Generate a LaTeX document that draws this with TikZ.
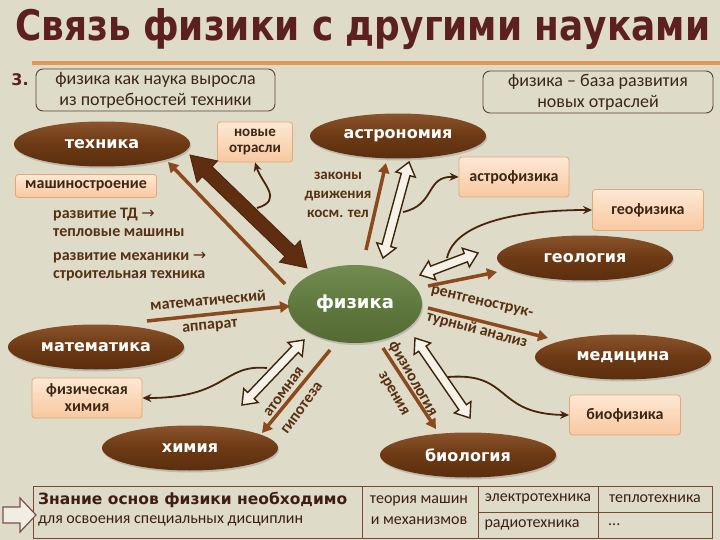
\documentclass[tikz,border=0pt]{standalone}
\usepackage{fontspec}
\setmainfont{Carlito}
\newfontfamily\dejavu{DejaVu Sans}
\usetikzlibrary{shapes.geometric,calc,arrows.meta,shadows}
\definecolor{bg}{RGB}{222,219,201}
\definecolor{bgLight}{RGB}{240,237,226}
\definecolor{titleCol}{RGB}{92,32,32}
\definecolor{orangeLine}{RGB}{226,150,88}
\definecolor{darkText}{RGB}{60,38,20}
\definecolor{lblCol}{RGB}{88,48,18}
\definecolor{boxLine}{RGB}{95,65,45}
\definecolor{ellTop}{RGB}{138,84,44}
\definecolor{ellMid}{RGB}{108,57,20}
\definecolor{ellBot}{RGB}{92,46,14}
\definecolor{greenTop}{RGB}{114,139,80}
\definecolor{greenMid}{RGB}{96,121,62}
\definecolor{greenBot}{RGB}{84,106,52}
\definecolor{peachTop}{RGB}{253,232,212}
\definecolor{peachBot}{RGB}{248,200,160}
\definecolor{peachLine}{RGB}{228,168,120}
\definecolor{arrowBrown}{RGB}{138,74,30}
\definecolor{bigArrow}{RGB}{95,45,15}
\definecolor{hollowLine}{RGB}{62,36,14}
\definecolor{hollowFill}{RGB}{245,242,232}
\definecolor{curveCol}{RGB}{72,36,12}
\definecolor{tableLine}{RGB}{122,72,50}
\definecolor{tableText}{RGB}{62,30,20}
\newcommand\dblarrow[6]{%
 \filldraw[#1] (#2) -- ($(#2)!#4!(#3)!#6!90:(#3)$) -- ($(#2)!#4!(#3)!#5!90:(#3)$) -- ($(#3)!#4!(#2)!#5!-90:(#2)$) -- ($(#3)!#4!(#2)!#6!-90:(#2)$) -- (#3) -- ($(#3)!#4!(#2)!#6!90:(#2)$) -- ($(#3)!#4!(#2)!#5!90:(#2)$) -- ($(#2)!#4!(#3)!#5!-90:(#3)$) -- ($(#2)!#4!(#3)!#6!-90:(#3)$) -- cycle;}
\begin{document}
\begin{tikzpicture}[x=1pt,y=-1pt,
  ell/.style={ellipse, inner sep=0pt, minimum width=176pt, minimum height=45pt,
    top color=ellTop, bottom color=ellBot, middle color=ellMid, text=white,
    font=\dejavu\bfseries\fontsize{16}{18}\selectfont,
    drop shadow={opacity=0.35, shadow xshift=1pt, shadow yshift=-2pt}},
  phys/.style={ellipse, inner sep=0pt, minimum width=134pt, minimum height=78pt,
    top color=greenTop, bottom color=greenBot, middle color=greenMid, text=white,
    font=\dejavu\bfseries\fontsize{18}{20}\selectfont,
    drop shadow={opacity=0.35, shadow xshift=1pt, shadow yshift=-2pt}},
  peach/.style={rectangle, rounded corners=3pt, draw=peachLine, line width=0.8pt,
    top color=peachTop, bottom color=peachBot, text=darkText, align=center,
    inner sep=0pt, font=\bfseries\fontsize{16}{17}\selectfont},
  infobox/.style={rectangle, rounded corners=7pt, draw=boxLine, line width=0.9pt,
    align=center, inner sep=0pt, text=darkText, font=\fontsize{18}{21}\selectfont},
  lbl/.style={text=lblCol, inner sep=0pt, font=\bfseries\fontsize{16}{18}\selectfont},
  solidarrow/.style={draw=arrowBrown, line width=3.5pt, -{Triangle[length=10pt,width=11pt]}},
  curvearrow/.style={draw=curveCol, line width=1.8pt, -{Stealth[length=9pt,width=8pt]}},
  hollow/.style={fill=hollowFill, draw=hollowLine, line width=1.4pt, line join=miter},
  big/.style={fill=bigArrow, draw=bigArrow!80!black, line width=0.8pt},
  cell/.style={text=tableText, inner sep=0pt, font=\fontsize{16}{18}\selectfont}
]
\useasboundingbox (0,0) rectangle (720,540);
\fill[bg] (0,0) rectangle (720,540);

% title
\node[anchor=base west, inner sep=0pt, text=titleCol] (title) at (15,41)
  {\resizebox{695pt}{32pt}{\dejavu\bfseries Связь физики с другими науками}};
\draw[orangeLine, line width=3.5pt] (32,63) -- (720,63);
\node[text=titleCol, font=\dejavu\bfseries\fontsize{16}{16}\selectfont, inner sep=0pt] (num) at (20,80) {3.};

\node[infobox, minimum width=239pt, minimum height=42pt] (b1) at (155.5,90) {физика как наука выросла\\из потребностей техники};
\node[infobox, minimum width=230pt, minimum height=42pt] (b2) at (598,92) {физика – база развития\\новых отраслей};

% ellipses
\node[ell] (tech) at (102,144) {техника};
\node[ell] (astro) at (398,136) {астрономия};
\node[ell] (geo) at (585,258) {геология};
\node[ell] (math) at (96,347) {математика};
\node[ell] (chem) at (190,448) {химия};
\node[ell] (med) at (623,357) {медицина};
\node[ell] (bio) at (468,455) {биология};
\node[phys] (phys) at (355,304) {физика};

% peach boxes
\node[peach, minimum width=75pt, minimum height=40pt, font=\bfseries\fontsize{15}{16}\selectfont] (new) at (255,142) {новые\\отрасли};
\node[peach, minimum width=141pt, minimum height=23pt] (mash) at (86,186) {машиностроение};
\node[peach, minimum width=110pt, minimum height=40pt] (astrophys) at (514,177) {астрофизика};
\node[peach, minimum width=111pt, minimum height=41pt] (geophys) at (648,210) {геофизика};
\node[peach, minimum width=110pt, minimum height=40pt] (physchem) at (87,398) {физическая\\химия};
\node[peach, minimum width=111pt, minimum height=40pt] (biophys) at (625,415) {биофизика};

% labels
\node[lbl, anchor=west, align=left] (td) at (53,222) {развитие ТД {\dejavu\mdseries →}\\тепловые машины};
\node[lbl, anchor=west, align=left] (mech) at (53,267) {развитие механики {\dejavu\mdseries →}\\строительная техника};
\node[lbl, align=center, font=\bfseries\fontsize{15}{19}\selectfont] (laws) at (338,195) {законы\\движения\\косм. тел};
\node[lbl, rotate=5] (mat1) at (208,300) {математический};
\node[lbl, rotate=5] (mat2) at (210,327) {аппарат};
\node[lbl, rotate=-13] (xr1) at (482,303) {рентгенострук-};
\node[lbl, rotate=-15] (xr2) at (477,330) {турный анализ};
\node[lbl, rotate=54] (at1) at (284,392) {атомная};
\node[lbl, rotate=54] (at2) at (302,408) {гипотеза};
\node[lbl, rotate=-60] (fz1) at (413,379) {физиология};
\node[lbl, rotate=-60] (fz2) at (393,394) {зрения};

% coordinates for connectors
\coordinate (bA) at (190,155); \coordinate (bB) at (307,268);
\coordinate (tA) at (285,284); \coordinate (tB) at (168,162);
\coordinate (aA) at (366,250); \coordinate (aB) at (386,163);
\coordinate (haA) at (383,258); \coordinate (haB) at (409,162);
\coordinate (hgA) at (420,275); \coordinate (hgB) at (478,253);
\coordinate (gA) at (428,286); \coordinate (gB) at (497,272);
\coordinate (mA) at (147,321); \coordinate (mB) at (290,306);
\coordinate (hcA) at (242,405); \coordinate (hcB) at (304,340);
\coordinate (cA) at (330,350); \coordinate (cB) at (262,433);
\coordinate (rA) at (428,308); \coordinate (rB) at (548,338);
\coordinate (hbA) at (415,338); \coordinate (hbB) at (470,418);
\coordinate (vA) at (383,348); \coordinate (vB) at (436,429);
\coordinate (c1) at (257,208); \coordinate (c2) at (403,212);
\coordinate (c3) at (447,258); \coordinate (c4) at (267,368);
\coordinate (c5) at (448,377);

% big double arrow
\dblarrow{big}{bA}{bB}{24pt}{7pt}{15pt}
% hollow double arrows
\dblarrow{hollow}{haA}{haB}{13pt}{4.5pt}{10pt}
\dblarrow{hollow}{hgA}{hgB}{13pt}{4.5pt}{10pt}
\dblarrow{hollow}{hcA}{hcB}{13pt}{4.5pt}{10pt}
\dblarrow{hollow}{hbA}{hbB}{13pt}{4.5pt}{10pt}

% solid arrows
\draw[solidarrow] (tA) -- (tB);
\draw[solidarrow] (aA) -- (aB);
\draw[solidarrow] (gA) -- (gB);
\draw[solidarrow] (mA) -- (mB);
\draw[solidarrow] (cA) -- (cB);
\draw[solidarrow] (rA) -- (rB);
\draw[solidarrow] (vA) -- (vB);

% curvy arrows
\draw[curvearrow] (c1) .. controls (284,200) and (262,184) .. (new.south);
\draw[curvearrow] (c2) .. controls (436,205) and (425,176) .. (astrophys.west);
\draw[curvearrow] (c3) .. controls (455,222) and (520,210) .. (geophys.west);
\draw[curvearrow] (c4) .. controls (222,364) and (228,398) .. (physchem.east);
\draw[curvearrow] (c5) .. controls (512,372) and (494,414) .. (biophys.west);

% table
\draw[tableLine, line width=1pt] (33,486) rectangle (712,538);
\draw[tableLine, line width=1pt] (362,486) -- (362,538) (478,486) -- (478,538) (598,486) -- (598,538) (478,512) -- (712,512);
\node[cell, anchor=west, font=\dejavu\bfseries\fontsize{15.5}{17}\selectfont] (k1) at (38,500) {Знание основ физики необходимо};
\node[cell, anchor=west] (k2) at (38,521) {для освоения специальных дисциплин};
\node[cell] (k3) at (419,501) {теория машин};
\node[cell] (k4) at (419,521) {и механизмов};
\node[cell] (k5) at (538,499) {электротехника};
\node[cell] (k6) at (655,499) {теплотехника};
\node[cell] (k7) at (532,525) {радиотехника};
\node[cell, anchor=west] (k8) at (608,525) {...};
\filldraw[draw=titleCol!80, fill=bgLight, line width=1.2pt] (3,507) -- (20,507) -- (20,498) -- (36,515) -- (20,532) -- (20,523) -- (3,523) -- cycle;
\end{tikzpicture}
\end{document}
